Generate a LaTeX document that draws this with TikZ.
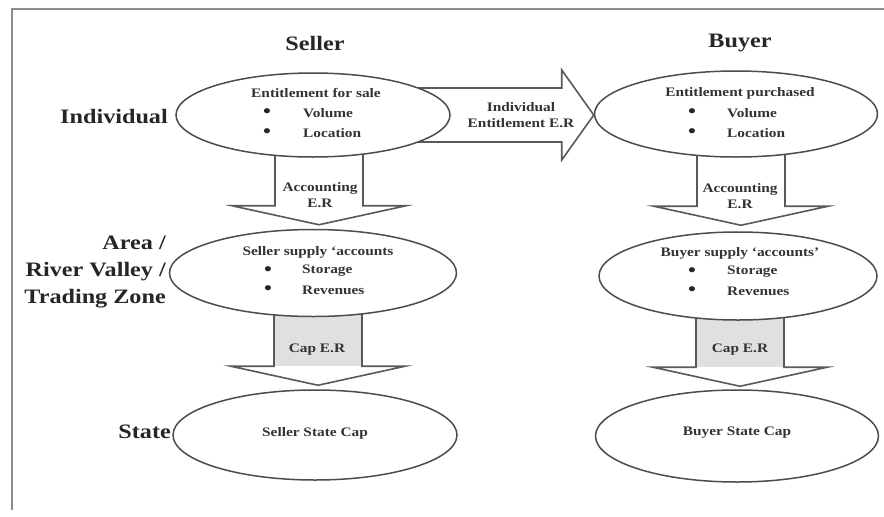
\documentclass[tikz,border=0pt]{standalone}
\usepackage{fontspec}
\setmainfont{Liberation Serif}[FakeStretch=1.18]
\usetikzlibrary{shapes.geometric,calc}
\pgfdeclarelayer{lA}\pgfdeclarelayer{lB}\pgfdeclarelayer{lC}
\pgfdeclarelayer{lD}\pgfdeclarelayer{lE}\pgfdeclarelayer{lF}
\pgfsetlayers{lA,lB,lC,lD,lE,lF,main}
\newcommand\blockdown[3][]{%
  \ifx&#1&\else\fill[#1] ($(#2)+(-44,0)$) rectangle ($(#3)+(44,-19)$);\fi
  \draw[blk] ($(#2)+(-44,0)$) -- ($(#3)+(-44,-19)$) -- ($(#3)+(-87,-19)$) -- (#3)
    -- ($(#3)+(87,-19)$) -- ($(#3)+(44,-19)$) -- ($(#2)+(44,0)$);}
\begin{document}
\begin{tikzpicture}[x=1pt,y=-1pt,
  ell/.style={ellipse, draw=black!70, line width=1.5pt, fill=white, inner sep=0pt},
  blk/.style={draw=black!65, line width=1.6pt, line join=miter},
  lab/.style={font=\fontsize{20.5}{27}\selectfont\bfseries, text=black!85, inner sep=0pt},
  sm/.style={font=\fontsize{13}{15.5}\selectfont\bfseries, text=black!80, inner sep=0pt, align=center},
  bul/.style={font=\fontsize{19}{19}\selectfont\bfseries, text=black!85, inner sep=0pt}]
\begin{pgfonlayer}{lA}
  \fill[white] (0,0) rectangle (884,517);
\end{pgfonlayer}
\useasboundingbox (0,0) rectangle (884,517);
% frame
\draw[black!45, line width=2.5pt] (12,510) -- (12,9) -- (884,9);
% ellipses
\begin{pgfonlayer}{lA}
  \node[ell, minimum width=284pt, minimum height=90pt] (s3) at (315,435) {};
  \node[ell, minimum width=283pt, minimum height=92pt] (b3) at (737,436) {};
\end{pgfonlayer}
\begin{pgfonlayer}{lC}
  \node[ell, minimum width=287pt, minimum height=87pt] (s2) at (313,273) {};
  \node[ell, minimum width=278pt, minimum height=88pt] (b2) at (738,276) {};
\end{pgfonlayer}
\begin{pgfonlayer}{lE}
  \node[ell, minimum width=283pt, minimum height=86pt] (b1) at (736,114) {};
\end{pgfonlayer}
\node[ell, minimum width=274pt, minimum height=84pt] (s1) at (313,115) {};
% arrow end points
\coordinate (tsa) at ($(s2.north)+(6,-4)$);
\coordinate (rsa) at (tsa |- s1.center);
\coordinate (tsb) at ($(s3.north)+(3,-4)$);
\coordinate (rsb) at (tsb |- s2.center);
\coordinate (tba) at ($(b2.north)+(3,-6)$);
\coordinate (rba) at (tba |- b1.center);
\coordinate (tbb) at ($(b3.north)+(3,-3)$);
\coordinate (rbb) at (tbb |- b2.center);
\coordinate (th) at ($(b1.west)+(0,1)$);
\coordinate (rh) at (s1.center |- th);
\begin{pgfonlayer}{lB}
  \blockdown[black!12]{rsb}{tsb}
  \blockdown[black!12]{rbb}{tbb}
\end{pgfonlayer}
\begin{pgfonlayer}{lD}
  \blockdown{rsa}{tsa}
  \blockdown{rba}{tba}
\end{pgfonlayer}
\begin{pgfonlayer}{lF}
  \draw[blk] ($(rh)+(0,-27)$) -- ($(th)+(-32,-27)$) -- ($(th)+(-32,-45)$) -- (th)
    -- ($(th)+(-32,45)$) -- ($(th)+(-32,27)$) -- ($(rh)+(0,27)$);
\end{pgfonlayer}
% headings and level labels
\node[lab] (hs) at (315,43) {Seller};
\node[lab] (hb) at (740,43) {Buyer};
\node[lab, anchor=east] (li) at (168,117) {Individual};
\node[lab, anchor=east, align=right] (la) at (166,272) {Area /\\River Valley /\\Trading Zone};
\node[lab, anchor=east] (ls) at (171,432) {State};
% arrow texts
\node[sm] (ht) at (521,115) {Individual\\Entitlement E.R};
\node[sm] (sat) at (320,195) {Accounting\\E.R};
\node[sm] (bat) at (740,196) {Accounting\\E.R};
\node[sm] (sct) at (317,350) {Cap E.R};
\node[sm] (bct) at (740,350) {Cap E.R};
% seller ellipse 1
\node[sm] (s1t) at (316,93) {Entitlement for sale};
\node[bul] (s1b1) at (267,113) {•};
\node[bul] (s1b2) at (267,133) {•};
\node[sm, anchor=west] (s1i1) at (303,113) {Volume};
\node[sm, anchor=west] (s1i2) at (303,133) {Location};
% buyer ellipse 1
\node[sm] (b1t) at (740,93) {Entitlement purchased};
\node[bul] (b1b1) at (692,113) {•};
\node[bul] (b1b2) at (692,133) {•};
\node[sm, anchor=west] (b1i1) at (727,113) {Volume};
\node[sm, anchor=west] (b1i2) at (727,133) {Location};
% seller ellipse 2
\node[sm] (s2t) at (318,252) {Seller supply ‘accounts};
\node[bul] (s2b1) at (268,271) {•};
\node[bul] (s2b2) at (268,290) {•};
\node[sm, anchor=west] (s2i1) at (302,271) {Storage};
\node[sm, anchor=west] (s2i2) at (302,290) {Revenues};
% buyer ellipse 2
\node[sm] (b2t) at (740,253) {Buyer supply ‘accounts’};
\node[bul] (b2b1) at (692,272) {•};
\node[bul] (b2b2) at (692,291) {•};
\node[sm, anchor=west] (b2i1) at (727,272) {Storage};
\node[sm, anchor=west] (b2i2) at (727,291) {Revenues};
% state ellipses
\node[sm] (s3t) at (315,433) {Seller State Cap};
\node[sm] (b3t) at (737,433) {Buyer State Cap};
\end{tikzpicture}
\end{document}
